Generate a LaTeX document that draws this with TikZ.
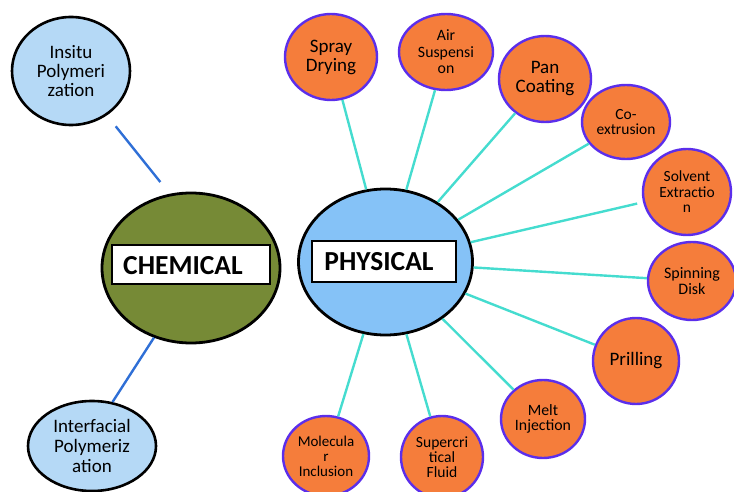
\documentclass[tikz,border=0pt]{standalone}
\usepackage{fontspec}
\setmainfont{Carlito}
\usetikzlibrary{shapes.geometric}
\definecolor{lightblue}{HTML}{B5D9F6}
\definecolor{physblue}{HTML}{85C2F7}
\definecolor{olive}{HTML}{768A36}
\definecolor{orangefill}{HTML}{F57D3B}
\definecolor{violetedge}{HTML}{5B2EEB}
\definecolor{turq}{HTML}{45DCCF}
\definecolor{linkblue}{HTML}{2F6FD6}
\tikzset{
  chemleaf/.style={ellipse, draw=black, line width=2.6pt, fill=lightblue, inner sep=0pt, align=center},
  bigcirc/.style={ellipse, draw=black, line width=2.8pt, inner sep=0pt},
  label box/.style={rectangle, draw=black, line width=2.4pt, fill=white, inner sep=0pt},
  hub text/.style={font=\bfseries\fontsize{27.5}{28}\selectfont, inner sep=0pt},
  physleaf/.style={ellipse, draw=violetedge, line width=2.4pt, fill=orangefill, inner sep=0pt, align=center},
  physlink/.style={draw=turq, line width=2.4pt},
  chemlink/.style={draw=linkblue, line width=2.4pt},
  big/.style={font=\fontsize{19}{19}\selectfont},
  small/.style={font=\fontsize{15.5}{15.5}\selectfont},
}
\begin{document}
\begin{tikzpicture}[x=1pt,y=-1pt]
\useasboundingbox (0,0) rectangle (734,492);

% chemical side
\node[chemleaf, minimum width=118pt, minimum height=108pt, big] (ins) at (71,71) {Insitu\\Polymeri\\zation};
\node[chemleaf, minimum width=128pt, minimum height=90pt, font=\fontsize{19}{20}\selectfont] (intf) at (92,446) {Interfacial\\Polymeriz\\ation};
\node[bigcirc, fill=olive, minimum width=178pt, minimum height=150pt] (chem) at (191,268) {};
\node[label box, minimum width=158pt, minimum height=39pt] (chembox) at (191,264.5) {};
\node[hub text] (chemtxt) at (183,265.5) {CHEMICAL};
\draw[chemlink, shorten <=14pt, shorten >=15pt] (ins.-51) -- (chem.106);
\draw[chemlink] (chem.242) -- (intf.65);

% physical side
\node[bigcirc, fill=physblue, minimum width=174pt, minimum height=146pt] (phys) at (385.5,262) {};
\node[label box, minimum width=144pt, minimum height=41pt] (physbox) at (384,261.5) {};
\node[hub text] (phystxt) at (379,261.5) {PHYSICAL};

\node[physleaf, minimum width=92pt, minimum height=86pt, big] (spray) at (331,57) {Spray\\Drying};
\node[physleaf, minimum width=94pt, minimum height=76pt, font=\fontsize{15.8}{16.5}\selectfont] (air) at (446,52) {Air\\Suspensi\\on};
\node[physleaf, minimum width=92pt, minimum height=86pt, big] (pan) at (545,79) {Pan\\Coating};
\node[physleaf, minimum width=88pt, minimum height=74pt, small] (coex) at (626,122) {Co-\\extrusion};
\node[physleaf, minimum width=88pt, minimum height=86pt, small] (solv) at (687,192) {Solvent\\Extractio\\n};
\node[physleaf, minimum width=88pt, minimum height=78pt, font=\fontsize{16}{16}\selectfont] (spin) at (692,281) {Spinning\\Disk};
\node[physleaf, minimum width=86pt, minimum height=86pt, big] (prill) at (636,361) {Prilling};
\node[physleaf, minimum width=84pt, minimum height=78pt, font=\fontsize{15.8}{15.5}\selectfont] (melt) at (543,419) {Melt\\Injection};
\node[physleaf, minimum width=82pt, minimum height=82pt, font=\fontsize{15.6}{15}\selectfont] (super) at (442,457) {Supercri\\tical\\Fluid};
\node[physleaf, minimum width=86pt, minimum height=80pt, font=\fontsize{15}{15}\selectfont] (mol) at (326,456) {Molecula\\r\\Inclusion};

\foreach \n in {spray,air,pan,coex,spin,prill,melt,super,mol}
  \draw[physlink] (phys) -- (\n);
\draw[physlink, shorten >=6pt] (phys) -- (solv);
\end{tikzpicture}
\end{document}
